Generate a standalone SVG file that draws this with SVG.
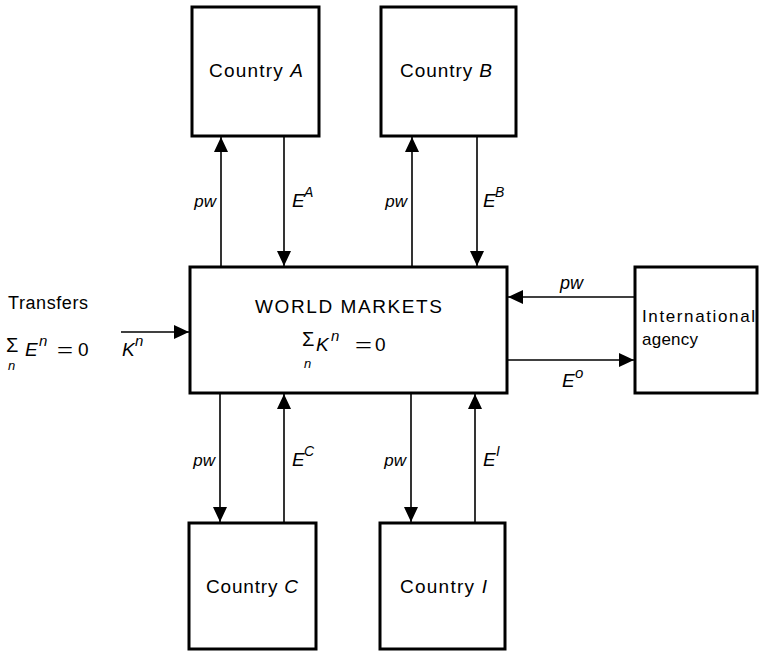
<svg xmlns="http://www.w3.org/2000/svg" width="759" height="651" viewBox="0 0 759 651">
<defs>
<style>
.box{fill:#fff;stroke:#000;stroke-width:3}
.con{stroke:#000;stroke-width:1.6;fill:none}
text{font-family:"Liberation Sans",Arial,sans-serif;fill:#000}
.lbl{font-size:19px}
.it{font-style:italic}
.sup{font-size:14px;font-style:italic}
.supn{font-size:15px;font-style:italic}
.sub{font-size:13px;font-style:italic}
.sig{font-size:20px}
</style>
<marker id="ah" markerUnits="userSpaceOnUse" markerWidth="16" markerHeight="15" refX="15" refY="7" orient="auto">
<path d="M0,0 L15,7 L0,14 Z" fill="#000"/>
</marker>
</defs>
<rect width="759" height="651" fill="#fff"/>

<g id="connectors">
<line class="con" x1="221" y1="267" x2="221" y2="137" marker-end="url(#ah)"/>
<line class="con" x1="284" y1="137" x2="284" y2="266" marker-end="url(#ah)"/>
<line class="con" x1="412" y1="267" x2="412" y2="137" marker-end="url(#ah)"/>
<line class="con" x1="477" y1="137" x2="477" y2="266" marker-end="url(#ah)"/>
<line class="con" x1="220" y1="393" x2="220" y2="522" marker-end="url(#ah)"/>
<line class="con" x1="284" y1="523" x2="284" y2="394" marker-end="url(#ah)"/>
<line class="con" x1="411" y1="393" x2="411" y2="522" marker-end="url(#ah)"/>
<line class="con" x1="475" y1="523" x2="475" y2="394" marker-end="url(#ah)"/>
<line class="con" x1="635" y1="297" x2="508" y2="297" marker-end="url(#ah)"/>
<line class="con" x1="507" y1="360" x2="634" y2="360" marker-end="url(#ah)"/>
<line class="con" x1="121" y1="332" x2="189" y2="332" marker-end="url(#ah)"/>
<text class="it" x="216" y="207" text-anchor="end" font-size="17">pw</text>
<text class="lbl it" x="292" y="207">E</text><text class="sup" x="304" y="197">A</text>
<text class="it" x="407" y="207" text-anchor="end" font-size="17">pw</text>
<text class="lbl it" x="483" y="207">E</text><text class="sup" x="495" y="197">B</text>
<text class="it" x="215" y="466" text-anchor="end" font-size="17">pw</text>
<text class="lbl it" x="292" y="466">E</text><text class="sup" x="304" y="456">C</text>
<text class="it" x="406" y="466" text-anchor="end" font-size="17">pw</text>
<text class="lbl it" x="483" y="466">E</text><text class="sup" x="496" y="456">I</text>
<text class="it" x="560" y="289" font-size="18">pw</text>
<text class="lbl it" x="562" y="387">E</text><text class="supn" x="575" y="378">o</text>
<text class="lbl it" x="122" y="356">K</text><text class="supn" x="135" y="346">n</text>
</g>

<g id="country-a">
<rect class="box" x="192" y="7" width="127" height="129"/>
<text class="lbl" x="209" y="77" textLength="94" lengthAdjust="spacing">Country <tspan class="it">A</tspan></text>
</g>
<g id="country-b">
<rect class="box" x="381" y="7" width="135" height="129"/>
<text class="lbl" x="400" y="77" textLength="92" lengthAdjust="spacing">Country <tspan class="it">B</tspan></text>
</g>
<g id="world-markets">
<rect class="box" x="190" y="267" width="317" height="126"/>
<text class="lbl" x="255" y="313" textLength="187" lengthAdjust="spacing">WORLD MARKETS</text>
<text class="sig" x="302" y="346">Σ</text>
<text class="sub" x="304" y="368">n</text>
<text class="lbl it" x="316" y="351">K</text><text class="supn" x="331" y="341">n</text>
<text class="lbl" x="355" y="351" textLength="17" lengthAdjust="spacingAndGlyphs">=</text>
<text class="lbl" x="375" y="351">0</text>
</g>
<g id="international-agency">
<rect class="box" x="635" y="267" width="122" height="126"/>
<text x="642" y="322" font-size="17" textLength="113" lengthAdjust="spacing">International</text>
<text x="642" y="345" font-size="17" textLength="56" lengthAdjust="spacing">agency</text>
</g>
<g id="country-c">
<rect class="box" x="189" y="523" width="127" height="126"/>
<text class="lbl" x="206" y="593" textLength="92" lengthAdjust="spacing">Country <tspan class="it">C</tspan></text>
</g>
<g id="country-i">
<rect class="box" x="380" y="523" width="125" height="126"/>
<text class="lbl" x="400" y="593" textLength="87" lengthAdjust="spacing">Country <tspan class="it">I</tspan></text>
</g>
<g id="transfers">
<text x="8" y="309" font-size="18" textLength="80" lengthAdjust="spacing">Transfers</text>
<text class="sig" x="6" y="352">Σ</text>
<text class="sub" x="8" y="370">n</text>
<text class="lbl it" x="25" y="356">E</text><text class="supn" x="39" y="346">n</text>
<text class="lbl" x="57" y="356" textLength="16" lengthAdjust="spacingAndGlyphs">=</text>
<text class="lbl" x="78" y="356">0</text>
</g>
</svg>
